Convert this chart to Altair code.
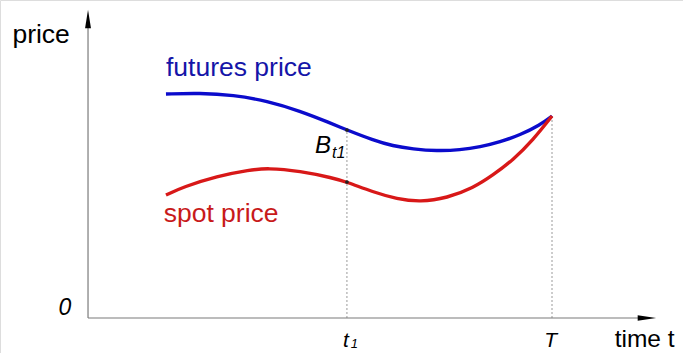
import altair as alt
import pandas as pd

# Schematic: futures price converging to spot price at expiry T
fut_t = [16.8, 24.1, 31.3, 38.6, 45.7, 52.2, 55.8, 61.4, 65.7, 70.0, 75.2, 80.2, 84.5, 88.8, 93.1, 97.4, 100.0]
fut_p = [112, 112.5, 111.5, 108.5, 103.5, 97.5, 94, 89, 86, 84.5, 83.5, 84, 85.5, 88, 91.5, 96.5, 101]
spot_t = [16.8, 20.5, 27.8, 34.9, 38.6, 45.7, 52.8, 55.8, 61.4, 66.6, 71.6, 77.4, 83.0, 87.3, 91.6, 95.9, 100.0]
spot_p = [61.5, 65.5, 71.0, 74.0, 75, 73.5, 70, 68, 63, 59.5, 58, 60, 65, 71.5, 79, 89, 101]

T1 = 55.8
T_END = 100.0
T1_FUT = 94
T1_SPOT = 68
T_END_P = 101

X_MAX = 122.4   # end of the time axis (arrow tip)
Y_MAX = 154     # end of the price axis (arrow tip)

W, H = 683, 353
xs = alt.Scale(domain=[-18.97, 128.23], range=[0, W], nice=False, zero=False)
ys = alt.Scale(domain=[-17.5, 159], range=[H, 0], nice=False, zero=False)

BLUE = "#0b0bcc"
RED = "#d81818"
FONT = "Liberation Sans"

fut = pd.DataFrame({"t": fut_t, "p": fut_p})
spot = pd.DataFrame({"t": spot_t, "p": spot_p})

X = lambda f: alt.X(f, type="quantitative", scale=xs, axis=None)
Y = lambda f: alt.Y(f, type="quantitative", scale=ys, axis=None)

# axes
y_axis = alt.Chart(pd.DataFrame({"t": [0], "p0": [0], "p1": [Y_MAX - 6]})).mark_rule(
    color="#7a7a7a", strokeWidth=1.2).encode(x=X("t"), y=Y("p0"), y2="p1")
x_axis = alt.Chart(pd.DataFrame({"t0": [0], "t1": [X_MAX - 2], "p": [0]})).mark_rule(
    color="#7a7a7a", strokeWidth=1.2).encode(x=X("t0"), x2="t1", y=Y("p"))

up_arrow = alt.Chart(pd.DataFrame({"t": [0], "p": [Y_MAX - 4.5]})).mark_point(
    shape="M0,-1L-0.32,1L0.32,1Z", size=340, filled=True, color="black", opacity=1
).encode(x=X("t"), y=Y("p"))
right_arrow = alt.Chart(pd.DataFrame({"t": [X_MAX - 1.95], "p": [0]})).mark_point(
    shape="M1,0L-1,-0.3L-1,0.3Z", size=340, filled=True, color="black", opacity=1
).encode(x=X("t"), y=Y("p"))

# dotted guide lines at t1 and T
guides = alt.Chart(pd.DataFrame({"t": [T1, T_END], "p0": [0, 0], "p1": [T1_FUT, T_END_P]})).mark_rule(
    color="#9a9a9a", strokeWidth=1, strokeDash=[2, 2]).encode(x=X("t"), y=Y("p0"), y2="p1")

fut_line = alt.Chart(fut).mark_line(color=BLUE, strokeWidth=3.4, interpolate="basis").encode(
    x=X("t"), y=Y("p"))
spot_line = alt.Chart(spot).mark_line(color=RED, strokeWidth=3.4, interpolate="basis").encode(
    x=X("t"), y=Y("p"))

dots = alt.Chart(pd.DataFrame({"t": [T1, T1], "p": [T1_FUT, T1_SPOT]})).mark_circle(
    color="#222222", size=14, opacity=1).encode(x=X("t"), y=Y("p"))

def label(t, p, text, size=19, color="black", italic=False, align="left", baseline="alphabetic"):
    kw = dict(font=FONT, fontSize=size, color=color, align=align, baseline=baseline, text=text)
    if italic:
        kw["fontStyle"] = "italic"
    return alt.Chart(pd.DataFrame({"t": [t], "p": [p]})).mark_text(**kw).encode(x=X("t"), y=Y("p"))

labels = [
    label(-16.3, 137.5, "price", size=26.5),
    label(16.8, 121, "futures price", size=26.5, color="#1515a8"),
    label(16.3, 48, "spot price", size=26.5, color="#c81a1a"),
    label(48.9, 82.5, "B", size=24, italic=True),
    label(52.6, 80, "t1", size=16, italic=True),
    label(-4.96, 1.5, "0", size=23, italic=True, align="center"),
    label(55.6, -14.5, "t", size=21, italic=True, align="center"),
    label(57.4, -15.2, "1", size=13, italic=True, align="center"),
    label(99.7, -14.5, "T", size=21, italic=True, align="center"),
    label(113.5, -14.5, "time t", size=24.5),
]

chart = alt.layer(
    guides, y_axis, x_axis, up_arrow, right_arrow, fut_line, spot_line, dots, *labels
).properties(
    width=W, height=H, autosize=alt.AutoSizeParams(type="none"), padding=0
).configure_view(stroke=None).configure(background="white")

chart.save("out.html", embed_options={"renderer": "svg", "actions": False})
